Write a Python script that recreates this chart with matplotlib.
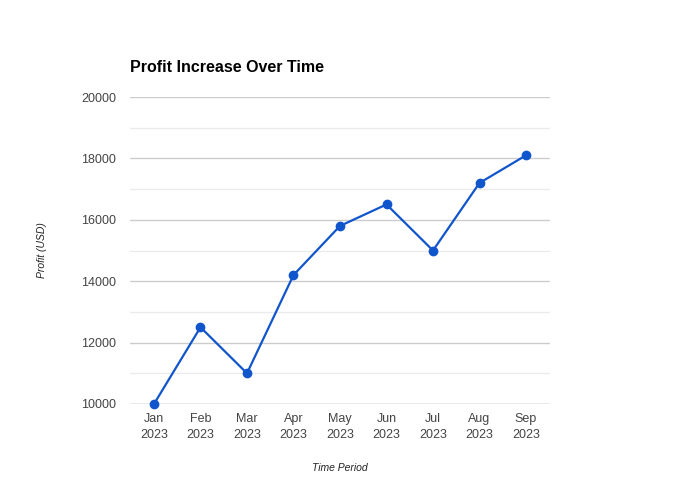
import matplotlib
matplotlib.use("Agg")
import matplotlib.pyplot as plt

months = ["Jan\n2023", "Feb\n2023", "Mar\n2023", "Apr\n2023", "May\n2023",
          "Jun\n2023", "Jul\n2023", "Aug\n2023", "Sep\n2023"]
profit = [10000, 12500, 11000, 14200, 15800, 16500, 15000, 17200, 18100]
yticks = [10000, 12000, 14000, 16000, 18000, 20000]
yminor = [11000, 13000, 15000, 17000, 19000]

plt.rcParams["font.family"] = ["Liberation Sans", "DejaVu Sans"]

fig = plt.figure(figsize=(6.8, 5.0), dpi=100)
ax = fig.add_axes([130 / 680, 1 - 404 / 500, 420 / 680, 307 / 500])

x = list(range(len(profit)))
ax.plot(x, profit, color="#1155cc", linewidth=1.6, marker="o",
        markersize=6, zorder=3, clip_on=False)

ax.set_xlim(-0.516, len(profit) - 1 + 0.516)
ax.set_ylim(10000, 20000)
ax.set_yticks(yticks)
ax.set_yticks(yminor, minor=True)
ax.set_xticks(x)
ax.set_xticklabels(months, linespacing=1.45)

ax.grid(axis="y", which="major", color="#cccccc", linewidth=1)
ax.grid(axis="y", which="minor", color="#ebebeb", linewidth=1)
ax.axhline(10000, color="#bbbbbb", linewidth=1, zorder=1)
ax.set_axisbelow(True)
for s in ax.spines.values():
    s.set_visible(False)
ax.tick_params(axis="both", which="both", length=0, labelsize=9,
               labelcolor="#444444")
ax.tick_params(axis="y", pad=10)
ax.tick_params(axis="x", pad=6.5)

fig.text(130 / 680, 1 - 67 / 500, "Profit Increase Over Time",
         fontsize=11.5, fontweight="bold", color="#000000", va="center")
fig.text(42 / 680, 1 - 250 / 500, "Profit (USD)", fontsize=7.5,
         style="italic", color="#222222", rotation=90, va="center", ha="center")
fig.text(340 / 680, 1 - 468 / 500, "Time Period", fontsize=7.5,
         style="italic", color="#222222", va="center", ha="center")

fig.savefig("out.png", dpi=100)
